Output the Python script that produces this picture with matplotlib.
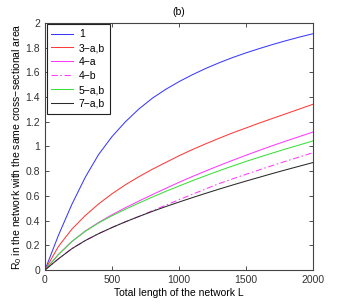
import numpy as np
import matplotlib
matplotlib.use("Agg")
import matplotlib.pyplot as plt
from matplotlib.ticker import FormatStrFormatter

plt.rcParams['font.family'] = ['Liberation Sans', 'DejaVu Sans']
plt.rcParams['mathtext.default'] = 'regular'

# total length of the network L
L = [0, 100, 200, 300, 400, 500, 600, 700, 800, 900, 1000,
     1100, 1200, 1300, 1400, 1500, 1600, 1700, 1800, 1900, 2000]

# R0 values
r_1 = [0, 0.28, 0.53, 0.75, 0.935, 1.08, 1.2, 1.303, 1.39, 1.462, 1.525,
       1.581, 1.632, 1.678, 1.72, 1.758, 1.793, 1.826, 1.857, 1.886, 1.913]
r_3ab = [0, 0.19, 0.33, 0.44, 0.535, 0.617, 0.69, 0.755, 0.815, 0.87, 0.925,
         0.975, 1.022, 1.067, 1.11, 1.15, 1.19, 1.228, 1.266, 1.304, 1.342]
r_4a = [0, 0.125, 0.23, 0.315, 0.385, 0.447, 0.504, 0.558, 0.61, 0.66, 0.71,
        0.757, 0.802, 0.846, 0.888, 0.929, 0.969, 1.008, 1.045, 1.081, 1.117]
r_4b = [0, 0.09, 0.172, 0.238, 0.294, 0.344, 0.39, 0.433, 0.479, 0.524, 0.569,
        0.613, 0.657, 0.70, 0.738, 0.775, 0.811, 0.847, 0.882, 0.916, 0.95]
r_5ab = [0, 0.125, 0.23, 0.313, 0.381, 0.439, 0.492, 0.542, 0.59, 0.636, 0.68,
         0.723, 0.764, 0.804, 0.842, 0.879, 0.914, 0.948, 0.981, 1.013, 1.045]
r_7ab = [0, 0.09, 0.172, 0.238, 0.294, 0.344, 0.39, 0.433, 0.474, 0.513, 0.55,
         0.586, 0.621, 0.655, 0.688, 0.72, 0.751, 0.782, 0.812, 0.841, 0.87]

fig = plt.figure(figsize=(3.46, 3.05), dpi=100)
ax = fig.add_axes([0.130, 0.1148, 0.775, 0.810])

lw = 0.75
ax.plot(L, r_1, color='#3a3aff', lw=lw, label='1')
ax.plot(L, r_3ab, color='#ff3a3a', lw=lw, label='3\u2212a,b')
ax.plot(L, r_4a, color='#ff3aff', lw=lw, label='4\u2212a')
ax.plot(L, r_4b, color='#ff3aff', lw=lw, ls=(0, (6, 2.5, 1.5, 2.5)), label='4\u2212b')
ax.plot(L, r_5ab, color='#3ae03a', lw=lw, label='5\u2212a,b')
ax.plot(L, r_7ab, color='#2a2a2a', lw=lw, label='7\u2212a,b')

ax.set_xlim(0, 2000)
ax.set_ylim(0, 2)
ax.set_xticks([0, 500, 1000, 1500, 2000])
ax.set_yticks(np.arange(0, 2.01, 0.2))
ax.yaxis.set_major_formatter(FormatStrFormatter('%g'))
ax.tick_params(direction='in', length=3, width=0.6, labelsize=7.5,
               top=True, right=True, colors='#333333')
for s in ax.spines.values():
    s.set_linewidth(0.8)
    s.set_color('#444444')

ax.set_title('(b)', fontsize=7.5, pad=6)
ax.set_xlabel('Total length of the network L', fontsize=7.5, labelpad=2)
ax.set_ylabel('R$_0$ in the network with the same cross\u2212sectional area',
              fontsize=7.5)
ax.yaxis.set_label_coords(-0.078, 0.5)

leg = ax.legend(loc='upper left', fontsize=7.5, handlelength=2.1,
                borderaxespad=0.15, fancybox=False, framealpha=1,
                labelspacing=0.38, handletextpad=0.55, borderpad=0.45)
leg.get_frame().set_edgecolor('#222222')
leg.get_frame().set_linewidth(0.8)

fig.savefig('out.png', dpi=100)
